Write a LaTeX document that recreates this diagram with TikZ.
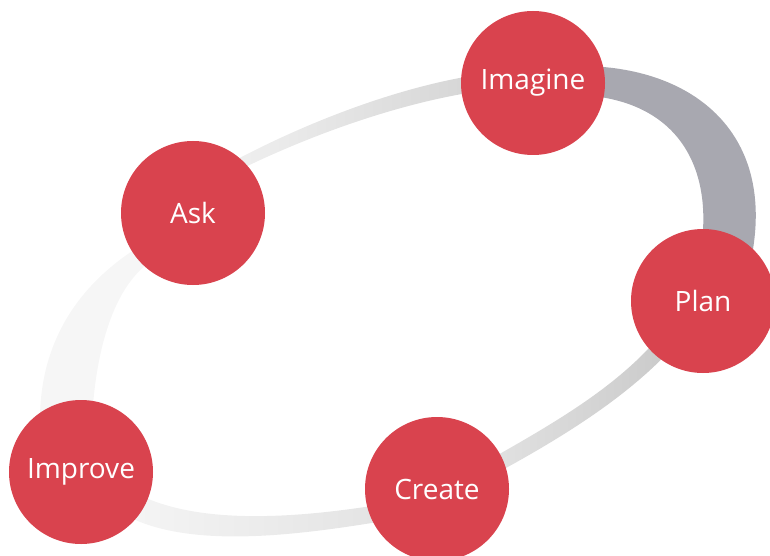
\documentclass[tikz,border=0pt]{standalone}
\usepackage{fontspec}
\setsansfont{Open Sans}
\definecolor{stagered}{RGB}{217,67,78}
\definecolor{ringdark}{RGB}{168,168,176}
\begin{document}
\begin{tikzpicture}[x=1pt,y=-1pt,line join=round,
  stage/.style={circle,fill=stagered,minimum size=144pt,inner sep=0pt,text=white,
    font=\sffamily\fontsize{28}{30}\selectfont}]
\useasboundingbox (0,0) rectangle (770,556);
\shade[left color=gray!12,right color=gray!35]
  (230,163) .. controls (320,115) and (420,80) .. (500,72)
  -- (505,88) .. controls (420,96) and (320,130) .. (235,172) -- cycle;
\fill[ringdark]
  (580,66) .. controls (690,66) and (775,130) .. (752,255)
  -- (700,255) .. controls (715,170) and (680,100) .. (580,95) -- cycle;
\shade[left color=gray!22,right color=gray!42]
  (665,330) .. controls (620,385) and (560,420) .. (480,465)
  -- (480,482) .. controls (565,437) and (630,395) .. (675,345) -- cycle;
\shade[left color=gray!8,right color=gray!22]
  (390,503) .. controls (290,520) and (190,525) .. (130,490)
  -- (125,515) .. controls (190,550) and (300,535) .. (390,520) -- cycle;
\fill[gray!7]
  (40,420) .. controls (40,340) and (80,280) .. (150,240)
  -- (150,262) .. controls (110,290) and (95,360) .. (92,420) -- cycle;
\node[stage] (imagine) at (533,83) {Imagine};
\node[stage] (ask) at (193,213) {Ask};
\node[stage] (plan) at (703,301) {Plan};
\node[stage] (create) at (437,489) {Create};
\node[stage] (improve) at (81,472) {Improve};
\end{tikzpicture}
\end{document}
